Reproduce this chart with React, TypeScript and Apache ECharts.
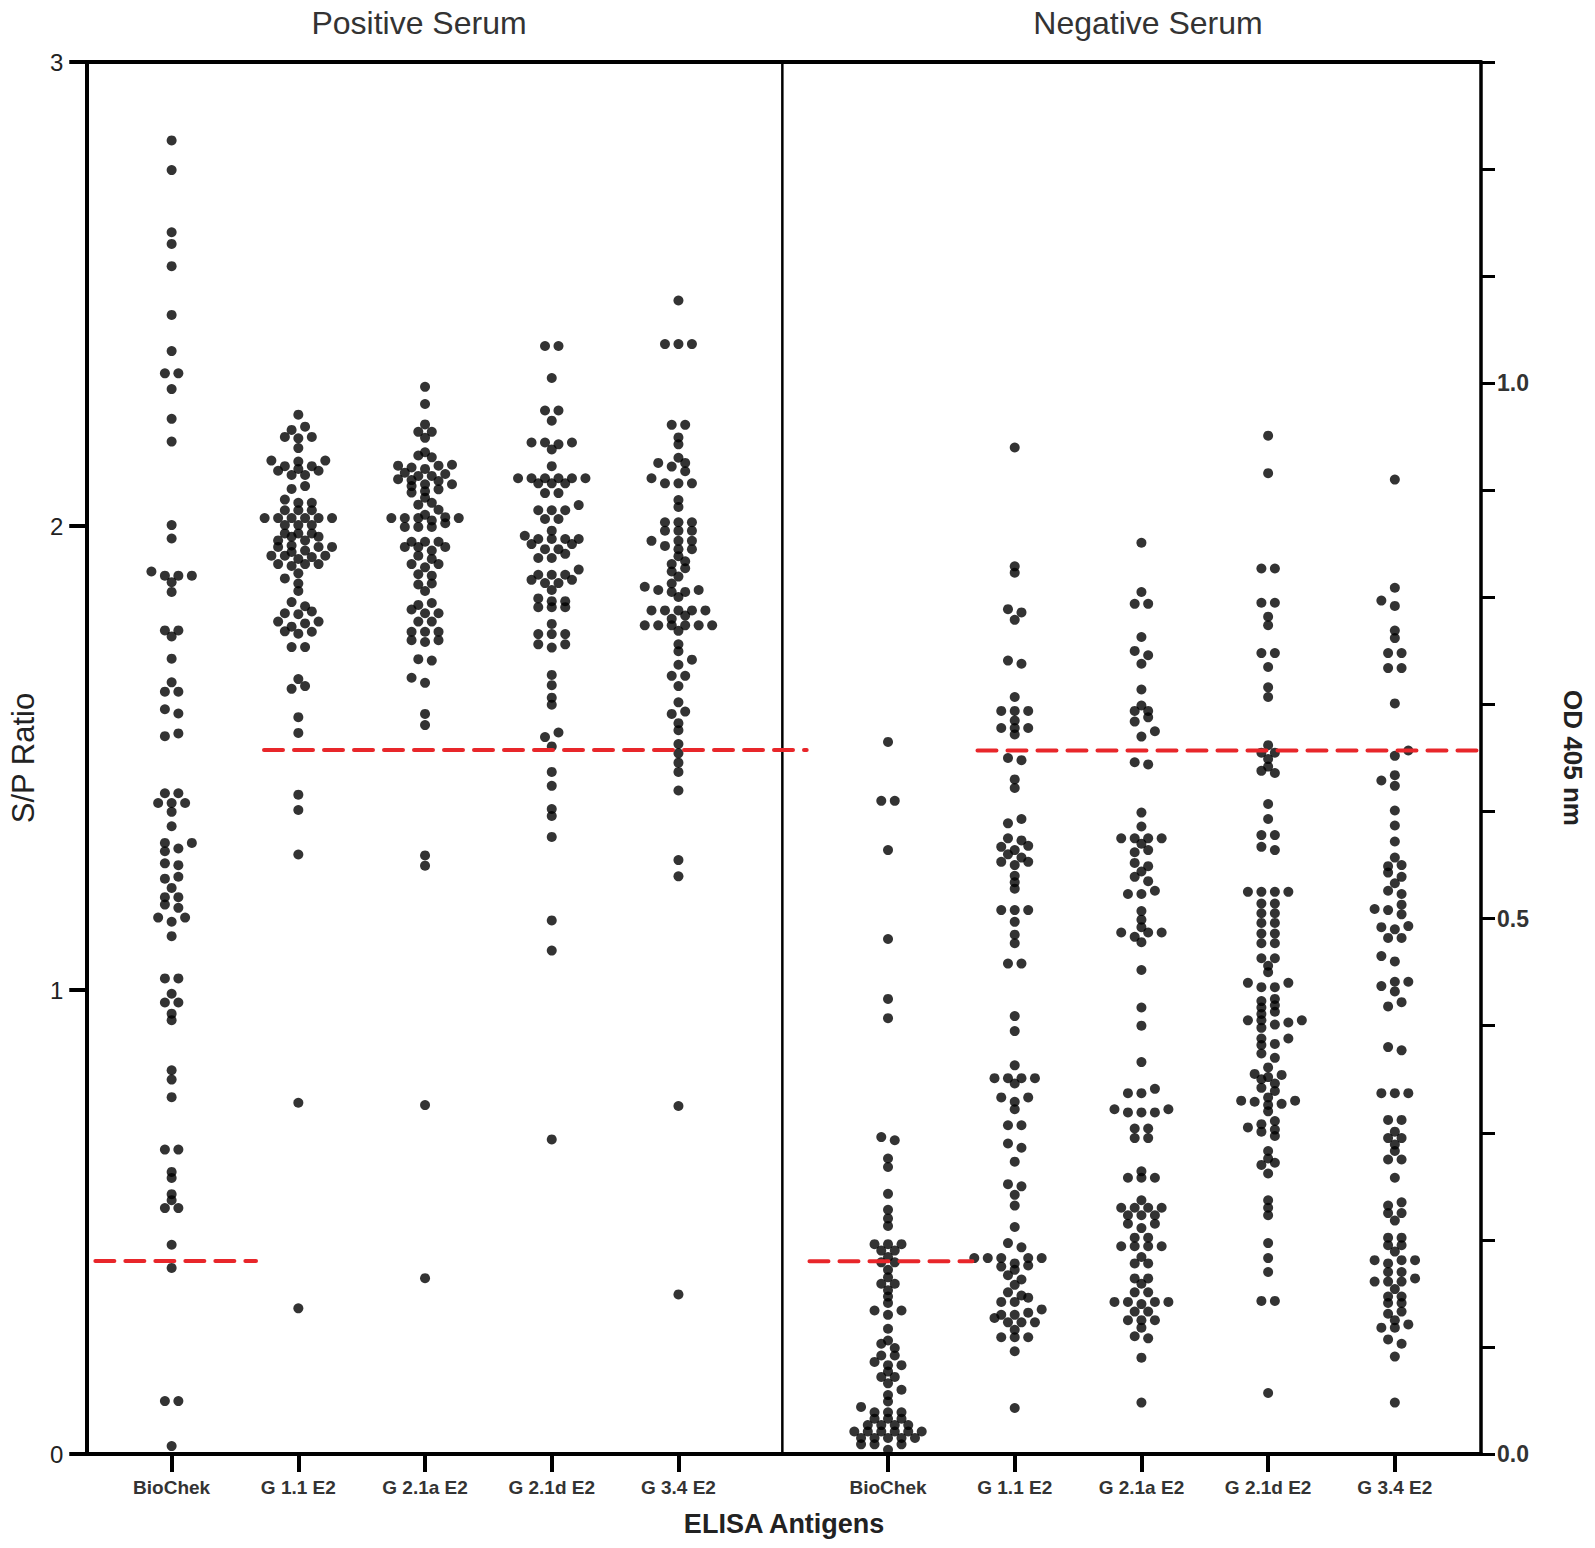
import React, { useEffect, useRef } from "react";
import * as echarts from "echarts";

// ---------- data ----------
const categories = ["BioChek", "G 1.1 E2", "G 2.1a E2", "G 2.1d E2", "G 3.4 E2"];
const panelTitles = ["Positive Serum", "Negative Serum"];

// Positive serum — S/P ratio (left axis)
const posBioChek = [
  2.831, 2.767, 2.633, 2.608, 2.56, 2.455, 2.377, 2.329, 2.329, 2.295, 2.231, 2.182,
  2.002, 1.973, 1.902, 1.893, 1.893, 1.893, 1.879, 1.858, 1.775, 1.775, 1.762, 1.714,
  1.663, 1.643, 1.643, 1.605, 1.596, 1.553, 1.547,
  1.424, 1.424, 1.403, 1.403, 1.403, 1.384, 1.353, 1.317, 1.317, 1.305, 1.299, 1.273,
  1.269, 1.244, 1.24, 1.22, 1.2, 1.2, 1.184, 1.177, 1.156, 1.156, 1.147, 1.116,
  1.025, 1.025, 0.992, 0.973, 0.973, 0.949, 0.935, 0.827, 0.807, 0.769,
  0.656, 0.656, 0.608, 0.595, 0.56, 0.547, 0.53, 0.53, 0.451, 0.401, 0.114, 0.114, 0.017,
];
const posG11 = [
  2.24, 2.214, 2.207, 2.192, 2.192, 2.189, 2.168, 2.141, 2.141, 2.139, 2.129, 2.129,
  2.123, 2.119, 2.119, 2.11, 2.11, 2.086, 2.08, 2.057, 2.05, 2.05, 2.034, 2.034, 2.034,
  2.017, 2.017, 2.017, 2.017, 2.017, 2.017, 2.002, 2.002, 2.002, 1.984, 1.984, 1.984,
  1.977, 1.977, 1.969, 1.969, 1.958, 1.955, 1.955, 1.955, 1.947, 1.944, 1.936, 1.936,
  1.936, 1.933, 1.929, 1.918, 1.918, 1.918, 1.914, 1.898, 1.887, 1.876, 1.86, 1.836,
  1.827, 1.816, 1.812, 1.81, 1.794, 1.794, 1.79, 1.783, 1.773, 1.772, 1.768, 1.739,
  1.739, 1.67, 1.655, 1.649, 1.588, 1.554,
  1.421, 1.388, 1.292, 0.757, 0.314,
];
const posG21a = [
  2.3, 2.263, 2.219, 2.203, 2.203, 2.19, 2.159, 2.152, 2.148, 2.132, 2.13, 2.13, 2.126,
  2.123, 2.115, 2.112, 2.108, 2.108, 2.101, 2.099, 2.097, 2.09, 2.09, 2.086, 2.079,
  2.075, 2.072, 2.061, 2.05, 2.046, 2.035, 2.024, 2.019, 2.017, 2.017, 2.017, 2.017,
  2.012, 2.006, 1.998, 1.998, 1.998, 1.966, 1.966, 1.966, 1.955, 1.955, 1.955, 1.947,
  1.936, 1.929, 1.918, 1.918, 1.911, 1.896, 1.893, 1.876, 1.874, 1.86, 1.834, 1.83,
  1.82, 1.812, 1.812, 1.794, 1.794, 1.772, 1.772, 1.772, 1.754, 1.754, 1.75, 1.713,
  1.71, 1.673, 1.662, 1.595, 1.571,
  1.29, 1.268, 0.752, 0.379,
];
const posG21d = [
  2.388, 2.388, 2.319, 2.249, 2.249, 2.227,
  2.18, 2.18, 2.18, 2.176, 2.165, 2.129,
  2.103, 2.103, 2.103, 2.103, 2.103, 2.103, 2.092, 2.092, 2.092, 2.071, 2.071,
  2.045, 2.034, 2.034, 2.034, 2.015, 2.015, 1.99,
  1.979, 1.972, 1.972, 1.972, 1.972, 1.961, 1.961, 1.95, 1.95, 1.94, 1.931, 1.931,
  1.906, 1.895, 1.895, 1.895, 1.884, 1.884, 1.877, 1.877,
  1.862, 1.844, 1.838, 1.838, 1.825, 1.825, 1.825,
  1.789, 1.767, 1.767, 1.767, 1.745, 1.745, 1.738, 1.679, 1.657,
  1.63, 1.615, 1.555, 1.545, 1.525, 1.47, 1.44, 1.39, 1.375, 1.33, 1.15, 1.085, 0.678,
];
const posG34 = [
  2.486, 2.392, 2.392, 2.392,
  2.218, 2.218, 2.191, 2.176,
  2.147, 2.136, 2.136, 2.128, 2.118, 2.103, 2.092, 2.092, 2.092,
  2.056, 2.041,
  2.008, 2.008, 2.008, 1.99, 1.99, 1.99, 1.968, 1.968, 1.968, 1.957, 1.95, 1.95,
  1.935, 1.924, 1.918, 1.909, 1.902, 1.891,
  1.876, 1.869, 1.862, 1.862, 1.858, 1.858, 1.847,
  1.818, 1.818, 1.818, 1.818, 1.818, 1.807, 1.8, 1.786, 1.786, 1.786, 1.786, 1.786, 1.786, 1.774,
  1.745, 1.73, 1.712, 1.701, 1.677, 1.677,
  1.655, 1.62, 1.6, 1.595, 1.575, 1.56, 1.53, 1.51, 1.49, 1.47, 1.43, 1.28, 1.245, 0.75, 0.344,
];

// Negative serum — OD 405 nm (right axis)
const negBioChek = [
  0.665, 0.61, 0.61, 0.564, 0.481, 0.425, 0.407,
  0.296, 0.293, 0.276, 0.268, 0.243, 0.228, 0.22, 0.213,
  0.196, 0.196, 0.196, 0.19, 0.19, 0.184, 0.179, 0.179, 0.172, 0.165, 0.159, 0.159,
  0.153, 0.147, 0.141, 0.134, 0.134, 0.13,
  0.117, 0.106, 0.103, 0.099, 0.092, 0.092, 0.086, 0.083, 0.083, 0.077, 0.072, 0.072,
  0.066, 0.06, 0.055, 0.049, 0.044, 0.039, 0.039, 0.039,
  0.033, 0.033, 0.033, 0.027, 0.027, 0.027, 0.027,
  0.021, 0.021, 0.021, 0.021, 0.021, 0.021, 0.015, 0.015, 0.015, 0.015, 0.015,
  0.009, 0.009, 0.009, 0.004,
];
const negG11 = [
  0.94, 0.829, 0.823, 0.789, 0.786, 0.779, 0.741, 0.738,
  0.707, 0.694, 0.694, 0.694, 0.685, 0.678, 0.678, 0.678, 0.672,
  0.65, 0.648, 0.63, 0.622, 0.593, 0.589,
  0.575, 0.573, 0.568, 0.567, 0.564, 0.56, 0.557, 0.553, 0.553, 0.55, 0.54, 0.534, 0.528,
  0.508, 0.508, 0.508, 0.497, 0.485, 0.477, 0.458, 0.458,
  0.409, 0.395, 0.363, 0.351, 0.351, 0.351, 0.351, 0.346, 0.333, 0.333, 0.329, 0.322,
  0.307, 0.307, 0.29, 0.286, 0.273, 0.252, 0.25, 0.242, 0.232, 0.212, 0.197, 0.193,
  0.183, 0.183, 0.183, 0.183, 0.183, 0.178, 0.176, 0.175, 0.172, 0.167, 0.163, 0.158,
  0.151, 0.148, 0.146, 0.142, 0.142, 0.135, 0.132, 0.13, 0.13, 0.127, 0.123, 0.123, 0.123,
  0.116, 0.109, 0.109, 0.109, 0.096, 0.043,
];
const negG21a = [
  0.851, 0.805, 0.794, 0.794, 0.763, 0.75, 0.746, 0.738, 0.714, 0.699, 0.694, 0.694,
  0.688, 0.684, 0.675, 0.67, 0.646, 0.644,
  0.599, 0.586, 0.575, 0.575, 0.575, 0.575, 0.57, 0.564, 0.562, 0.552, 0.549, 0.544,
  0.539, 0.535, 0.526, 0.523, 0.523, 0.507, 0.499, 0.492, 0.487, 0.487, 0.487, 0.483, 0.478,
  0.452, 0.417, 0.4, 0.366, 0.341, 0.337, 0.337, 0.322, 0.322, 0.319, 0.319, 0.319,
  0.304, 0.304, 0.295, 0.295, 0.264, 0.258, 0.258, 0.258, 0.237, 0.23, 0.23, 0.23, 0.23,
  0.223, 0.223, 0.223, 0.215, 0.215, 0.211, 0.202, 0.202, 0.194, 0.194, 0.194, 0.194,
  0.184, 0.178, 0.178, 0.164, 0.164, 0.159, 0.151, 0.151, 0.142, 0.142, 0.142, 0.142,
  0.14, 0.133, 0.133, 0.125, 0.125, 0.125, 0.118, 0.11, 0.108, 0.09, 0.048,
];
const negG21d = [
  0.951, 0.916, 0.827, 0.827, 0.795, 0.795, 0.782, 0.774, 0.748, 0.748, 0.735, 0.716, 0.707,
  0.662, 0.655, 0.655, 0.649, 0.642, 0.638, 0.636, 0.607, 0.593, 0.578, 0.578, 0.567, 0.564,
  0.525, 0.525, 0.525, 0.525, 0.514, 0.514, 0.505, 0.505, 0.496, 0.496, 0.486, 0.486,
  0.477, 0.477, 0.463, 0.463, 0.456, 0.45, 0.44, 0.44,
  0.436, 0.436, 0.425, 0.423, 0.419, 0.417, 0.413, 0.411, 0.405, 0.405, 0.405, 0.403,
  0.401, 0.398, 0.388, 0.388, 0.383, 0.382, 0.374, 0.37, 0.361, 0.355, 0.354, 0.352,
  0.35, 0.346, 0.342, 0.339, 0.333, 0.33, 0.33, 0.329, 0.327, 0.326, 0.32, 0.311,
  0.308, 0.305, 0.303, 0.301, 0.297, 0.283, 0.276, 0.272, 0.27, 0.262,
  0.237, 0.23, 0.223, 0.197, 0.183, 0.17, 0.143, 0.143, 0.057,
];
const negG34 = [
  0.91, 0.809, 0.797, 0.792, 0.769, 0.762, 0.748, 0.748, 0.734, 0.734, 0.701,
  0.657, 0.652, 0.634, 0.629, 0.624,
  0.601, 0.587, 0.572, 0.557, 0.55, 0.549, 0.543, 0.539, 0.533, 0.526, 0.523, 0.513,
  0.509, 0.508, 0.504, 0.493, 0.492, 0.49, 0.482, 0.482, 0.465, 0.46, 0.441, 0.441,
  0.437, 0.432, 0.422, 0.418,
  0.38, 0.377, 0.337, 0.337, 0.337, 0.312, 0.312, 0.301, 0.295, 0.295, 0.289, 0.283,
  0.275, 0.275, 0.258,
  0.235, 0.232, 0.225, 0.225, 0.218, 0.202, 0.202, 0.195, 0.195, 0.189, 0.181, 0.181,
  0.181, 0.178, 0.17, 0.17, 0.164, 0.161, 0.161, 0.161, 0.154, 0.147, 0.147, 0.141,
  0.141, 0.133, 0.131, 0.125, 0.121, 0.118, 0.118, 0.107, 0.103, 0.091, 0.048,
];

// cut-off lines
const posCutoffs = [0.416, 1.517]; // BioChek, E2 antigens (S/P)
const negCutoffs = [0.18, 0.657]; // BioChek, E2 antigens (OD)

const spAxis = { min: 0, max: 3, interval: 1 };
const odAxis = { min: 0, max: 1.3, interval: 0.1 };

// ---------- layout ----------
const FONT = "'Liberation Sans', Arial, Helvetica, sans-serif";
const W = 1595;
const H = 1548;
const GRID = { left: 85, top: 62, width: 1396, height: 1392 };
const X_MAX = 11;
const LEFT_POS = [0.666, 1.666, 2.666, 3.666, 4.666];
const RIGHT_POS = [6.32, 7.32, 8.32, 9.32, 10.32];
const DIVIDER_X = 5.486;
const DOT = 10;
const STEP = 13.5; // px between neighbours in a row
const ROW_H = 5; // px: values closer than this share a row
const D_COL = 6; // px: minimal distance to dots of earlier rows

const pxPerX = GRID.width / X_MAX;

// Prism-like dot plot layout: rows of near-equal values, centred,
// pushed outward when they would sit on top of the previous rows.
function swarmOffsets(values: number[], pxPerUnit: number): number[] {
  const idx = values.map((_, i) => i).sort((a, b) => values[a] - values[b]);
  const off: number[] = new Array(values.length).fill(0);
  const placed: { x: number; y: number }[] = [];
  let i = 0;
  let row = 0;
  while (i < idx.length) {
    const y0 = values[idx[i]] * pxPerUnit;
    let j = i;
    while (j < idx.length && values[idx[j]] * pxPerUnit - y0 < ROW_H) j++;
    const n = j - i;
    const half = n % 2 === 0 ? 0.5 : 0;
    const slots: number[] = [];
    for (let k = 0; k < 40; k++) {
      const a = (k + half) * STEP;
      if (a === 0) slots.push(0);
      else if (row % 2 === 0) slots.push(a, -a);
      else slots.push(-a, a);
    }
    const used = new Set<number>();
    for (let m = 0; m < n; m++) {
      const id = idx[i + m];
      const y = values[id] * pxPerUnit;
      for (const s of slots) {
        if (used.has(s)) continue;
        let ok = true;
        for (let q = placed.length - 1; q >= 0; q--) {
          const p = placed[q];
          if (y - p.y > 20) break;
          if (Math.hypot(p.x - s, p.y - y) < D_COL) {
            ok = false;
            break;
          }
        }
        if (ok) {
          used.add(s);
          off[id] = s / pxPerX;
          placed.push({ x: s, y });
          break;
        }
      }
    }
    i = j;
    row++;
  }
  return off;
}

function buildOption() {
  const pxSP = GRID.height / (spAxis.max - spAxis.min);
  const pxOD = GRID.height / (odAxis.max - odAxis.min);
  const groups = [
    { vals: posBioChek, x: LEFT_POS[0], axis: 0 },
    { vals: posG11, x: LEFT_POS[1], axis: 0 },
    { vals: posG21a, x: LEFT_POS[2], axis: 0 },
    { vals: posG21d, x: LEFT_POS[3], axis: 0 },
    { vals: posG34, x: LEFT_POS[4], axis: 0 },
    { vals: negBioChek, x: RIGHT_POS[0], axis: 1 },
    { vals: negG11, x: RIGHT_POS[1], axis: 1 },
    { vals: negG21a, x: RIGHT_POS[2], axis: 1 },
    { vals: negG21d, x: RIGHT_POS[3], axis: 1 },
    { vals: negG34, x: RIGHT_POS[4], axis: 1 },
  ];
  const dotSeries = groups.map((g) => {
    const off = swarmOffsets(g.vals, g.axis === 0 ? pxSP : pxOD);
    return {
      type: "scatter",
      xAxisIndex: 0,
      yAxisIndex: g.axis,
      symbol: "circle",
      symbolSize: DOT,
      clip: false,
      silent: true,
      z: 3,
      itemStyle: { color: "#000" },
      data: g.vals.map((v, i) => [g.x + off[i], v]),
    };
  });

  const redStyle = { color: "#e8262a", width: 4, type: [19, 11], cap: "round" };
  const cutSeries = [
    { axis: 0, y: posCutoffs[0], x0: 0.064, x1: 1.332 },
    { axis: 0, y: posCutoffs[1], x0: 1.395, x1: 5.678 },
    { axis: 1, y: negCutoffs[0], x0: 5.7, x1: 6.986 },
    { axis: 1, y: negCutoffs[1], x0: 7.026, x1: 11.357 },
  ].map((c) => ({
    type: "line",
    xAxisIndex: 0,
    yAxisIndex: c.axis,
    symbol: "none",
    clip: false,
    silent: true,
    z: 4,
    lineStyle: redStyle,
    data: [
      [c.x0, c.y],
      [c.x1, c.y],
    ],
  }));

  const divider = {
    type: "line",
    xAxisIndex: 0,
    yAxisIndex: 0,
    symbol: "none",
    silent: true,
    z: 2,
    lineStyle: { color: "#000", width: 2.5 },
    data: [
      [DIVIDER_X, spAxis.min],
      [DIVIDER_X, spAxis.max],
    ],
  };

  const tickPositions = [...LEFT_POS, ...RIGHT_POS];
  const tickLabels = [...categories, ...categories];

  const titleStyle = (text: string) => ({
    text,
    fontSize: 32,
    lineHeight: 32,
    fontFamily: FONT,
    fill: "#333",
    textAlign: "center",
    textVerticalAlign: "middle",
  });

  return {
    animation: false,
    textStyle: { fontFamily: FONT },
    grid: { ...GRID, containLabel: false },
    graphic: [
      { type: "text", x: 419, y: 23, style: titleStyle(panelTitles[0]) },
      { type: "text", x: 1148, y: 23, style: titleStyle(panelTitles[1]) },
    ],
    xAxis: [
      {
        type: "value",
        min: 0,
        max: X_MAX,
        position: "bottom",
        axisLine: { show: true, onZero: false, lineStyle: { color: "#000", width: 4 } },
        axisTick: {
          show: true,
          customValues: tickPositions,
          length: 18,
          lineStyle: { color: "#000", width: 4 },
        },
        axisLabel: {
          customValues: tickPositions,
          formatter: (v: number) => {
            const i = tickPositions.findIndex((p) => Math.abs(p - v) < 1e-6);
            return i >= 0 ? tickLabels[i] : "";
          },
          fontSize: 19,
          fontWeight: "bold",
          color: "#333",
          margin: 24,
          fontFamily: FONT,
        },
        splitLine: { show: false },
        name: "ELISA Antigens",
        nameLocation: "middle",
        nameGap: 56,
        nameTextStyle: { fontSize: 27, fontWeight: "bold", color: "#222", fontFamily: FONT },
      },
      {
        type: "value",
        min: 0,
        max: X_MAX,
        position: "top",
        axisLine: { show: true, onZero: false, lineStyle: { color: "#000", width: 4 } },
        axisTick: { show: false },
        axisLabel: { show: false },
        splitLine: { show: false },
      },
    ],
    yAxis: [
      {
        type: "value",
        position: "left",
        min: spAxis.min,
        max: spAxis.max,
        interval: spAxis.interval,
        axisLine: { show: true, onZero: false, lineStyle: { color: "#000", width: 4 } },
        axisTick: { show: true, length: 18, lineStyle: { color: "#000", width: 4 } },
        axisLabel: { fontSize: 24, color: "#222", margin: 24, fontFamily: FONT },
        splitLine: { show: false },
        name: "S/P Ratio",
        nameLocation: "middle",
        nameRotate: 90,
        nameGap: 46,
        nameTextStyle: { fontSize: 31, color: "#222", fontFamily: FONT },
      },
      {
        type: "value",
        position: "right",
        min: odAxis.min,
        max: odAxis.max,
        interval: odAxis.interval,
        axisLine: { show: true, onZero: false, lineStyle: { color: "#000", width: 3.5 } },
        axisTick: { show: true, length: 14, lineStyle: { color: "#000", width: 3 } },
        axisLabel: {
          fontSize: 23,
          fontWeight: "bold",
          color: "#333",
          margin: 16,
          fontFamily: FONT,
          formatter: (v: number) => {
            const t = Math.round(v * 10);
            return t % 5 === 0 ? (t / 10).toFixed(1) : "";
          },
        },
        splitLine: { show: false },
        name: "OD 405 nm",
        nameLocation: "middle",
        nameRotate: -90,
        nameGap: 79,
        nameTextStyle: { fontSize: 26, fontWeight: "bold", color: "#222", fontFamily: FONT },
      },
    ],
    series: [divider, ...dotSeries, ...cutSeries],
  };
}

export default function App() {
  const ref = useRef<HTMLDivElement>(null);
  useEffect(() => {
    if (!ref.current) return;
    const chart = echarts.init(ref.current, undefined, { renderer: "svg" });
    chart.setOption(buildOption() as any);
    return () => chart.dispose();
  }, []);
  // negative margins cancel the default 8px body margin so chart pixels = page pixels
  return (
    <div
      ref={ref}
      style={{ width: W, height: H, margin: "-8px -8px -8px -8px" }}
    />
  );
}
